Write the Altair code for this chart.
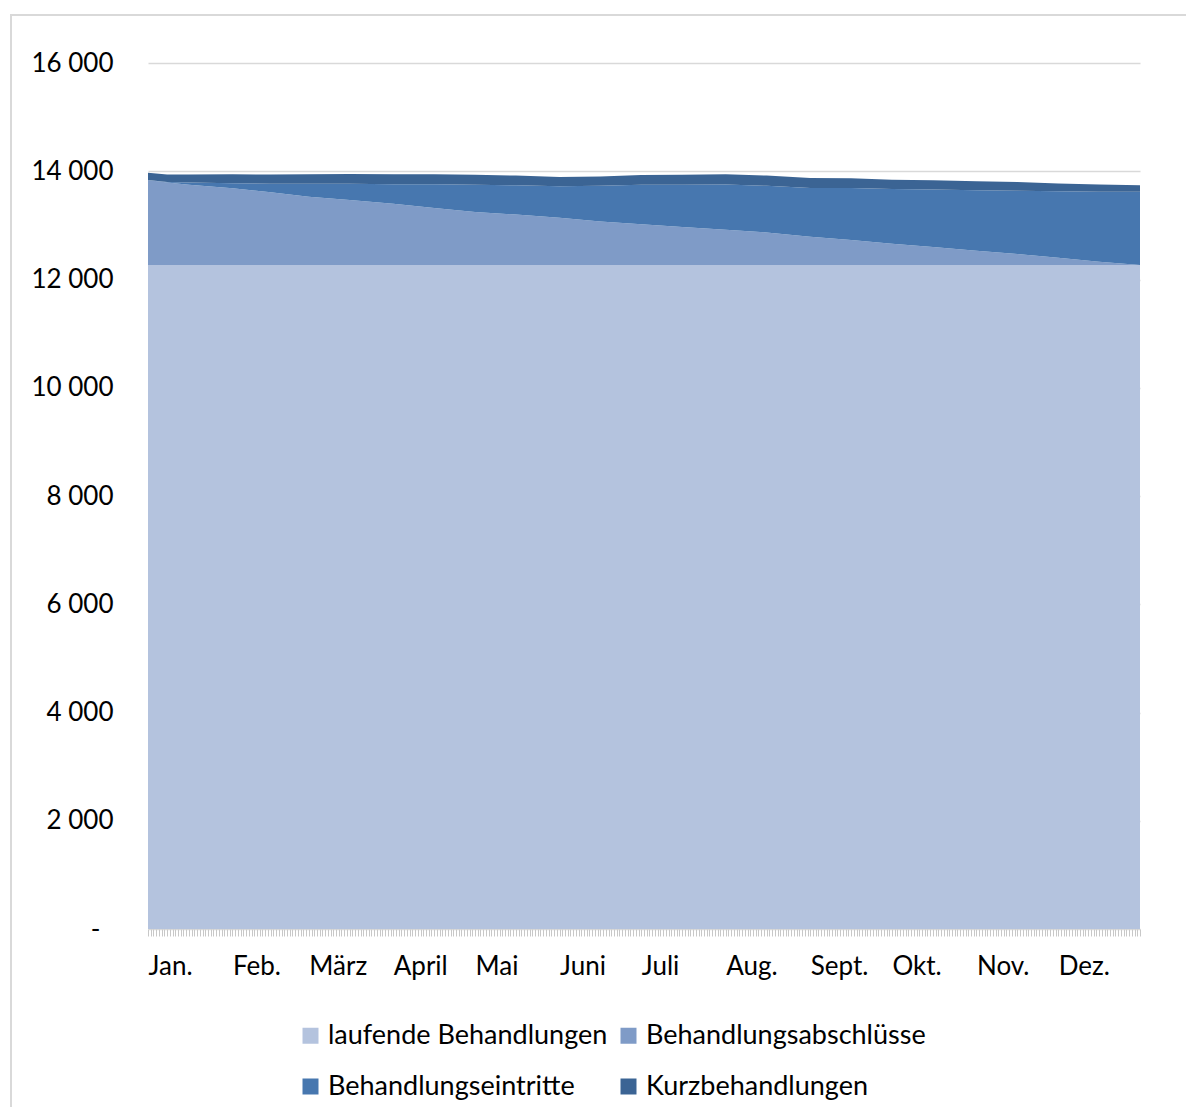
import altair as alt
import pandas as pd

# Day index (0 = 1 Jan) of the sampled points
days = [0, 7, 15, 31, 45, 59, 74, 90, 105, 120, 135, 151, 166, 181, 196,
        212, 227, 243, 258, 273, 288, 304, 319, 334, 349, 364]

laufende = [12270] * len(days)
abschluesse = [1570, 1520, 1480, 1415, 1340, 1260, 1200, 1130, 1050, 975, 930, 870, 800,
               750, 700, 650, 600, 520, 460, 390, 330, 260, 200, 130, 60, 0]
eintritte = [0, 10, 40, 95, 160, 240, 300, 360, 440, 505, 540, 585, 660,
             730, 780, 835, 860, 900, 960, 1010, 1065, 1120, 1170, 1230, 1290, 1350]
kurz = [130, 140, 150, 165, 170, 175, 180, 185, 185, 185, 180, 170, 175,
        180, 185, 190, 190, 185, 180, 175, 170, 165, 160, 145, 135, 120]

series = ["laufende Behandlungen", "Behandlungsabschlüsse",
          "Behandlungseintritte", "Kurzbehandlungen"]
colors = ["#B4C3DE", "#7F9BC7", "#4777AF", "#3B6494"]

month_starts = [0, 31, 59, 90, 120, 151, 181, 212, 243, 273, 304, 334]
month_labels = ["Jan.", "Feb.", "März", "April", "Mai", "Juni", "Juli",
                "Aug.", "Sept.", "Okt.", "Nov.", "Dez."]
y_ticks = [0, 2000, 4000, 6000, 8000, 10000, 12000, 14000, 16000]

rows = []
for s_i, (name, vals) in enumerate(zip(series, [laufende, abschluesse, eintritte, kurz])):
    for d, v in zip(days, vals):
        rows.append({"day": d, "serie": name, "wert": v, "ord": s_i})
df = pd.DataFrame(rows)

FONT = "Lato"
W, H = 992, 866

ms_js = "[" + ",".join(str(m) for m in month_starts) + "]"
ml_js = "[" + ",".join("'" + m + "'" for m in month_labels) + "]"
x_label_expr = (f"indexof({ms_js}, datum.value) >= 0 ? "
                f"{ml_js}[indexof({ms_js}, datum.value)] : ''")
y_label_expr = ("datum.value == 0 ? '-' : "
                "replace(format(datum.value, ','), ',', ' ')")

area = alt.Chart(df).mark_area(interpolate="linear", opacity=1).encode(
    x=alt.X("day:Q",
            scale=alt.Scale(domain=[0, 364], nice=False, zero=False),
            axis=alt.Axis(values=list(range(365)), title=None, domain=False,
                          grid=False, ticks=True, tickColor="#C8C8C8", tickSize=7,
                          tickWidth=1, labelExpr=x_label_expr, labelAlign="left",
                          labelBaseline="top", labelOverlap=False, labelFlush=False,
                          labelBound=False, labelPadding=17, labelFont=FONT,
                          labelFontSize=26, labelColor="#000000")),
    y=alt.Y("wert:Q", stack="zero",
            scale=alt.Scale(domain=[0, 16000], nice=False),
            axis=alt.Axis(values=y_ticks, title=None, domain=False, ticks=False,
                          grid=True, gridColor="#D9D9D9", gridWidth=1.5,
                          labelExpr=y_label_expr,
                          labelPadding={"condition": {"test": "datum.value == 0", "value": 48},
                                        "value": 35},
                          labelFont=FONT,
                          labelFontSize=26, labelColor="#000000")),
    color=alt.Color("serie:N",
                    scale=alt.Scale(domain=series, range=colors),
                    sort=series,
                    legend=alt.Legend(title=None, orient="none", legendX=149,
                                      legendY=959, columns=2, direction="horizontal",
                                      symbolType="square",
                                      symbolSize=256, symbolStrokeWidth=0,
                                      labelFont=FONT, labelFontSize=27,
                                      labelColor="#000000", labelOffset=4,
                                      columnPadding=7, rowPadding=23,
                                      padding=0, labelLimit=0)),
    order=alt.Order("ord:Q", sort="ascending"),
)

frame = alt.Chart(alt.Data(values=[{"k": 1}])).mark_rect(
    fill=None, stroke="#D9D9D9", strokeWidth=2
).encode(
    x=alt.value(-137), x2=alt.value(1200),
    y=alt.value(-48), y2=alt.value(1200),
)

chart = alt.layer(area, frame).properties(
    width=W, height=H,
    autosize=alt.AutoSizeParams(type="none"),
    padding={"left": 140, "top": 55, "right": 46, "bottom": 178},
    background="#FFFFFF",
).configure_view(stroke=None)

chart.save("out.html", embed_options={"renderer": "svg", "actions": False})
